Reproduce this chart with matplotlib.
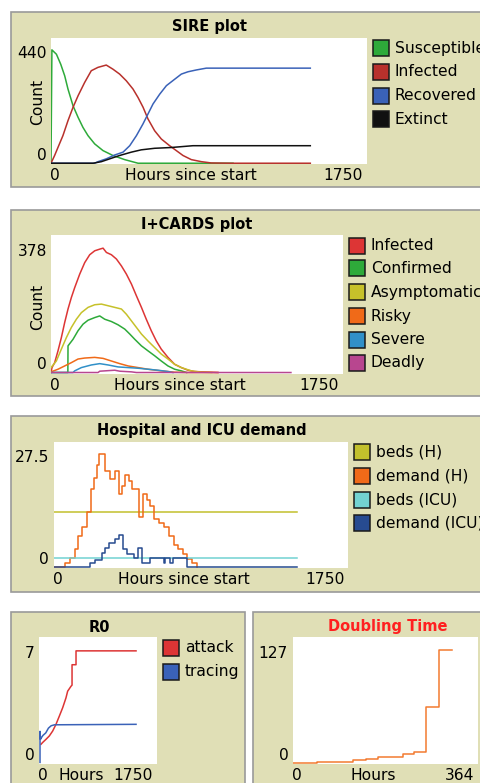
import matplotlib
matplotlib.use('Agg')
import matplotlib.pyplot as plt
from matplotlib.patches import Rectangle

# ---------------- data ----------------
# SIRE plot
sire_s_hours = [0, 5, 30, 54, 76, 94, 122, 150, 177, 205, 242, 288, 343, 408, 482, 1008]
sire_s = [0, 440, 423, 384, 339, 288, 223, 178, 139, 107, 75, 49, 30, 14, 0, 0]
sire_i_hours = [0, 20, 39, 66, 94, 122, 150, 186, 223, 260, 306, 343, 380, 417, 454, 482, 510,
                537, 574, 611, 657, 694, 731, 777, 833, 888, 999, 1436]
sire_i = [0, 30, 62, 107, 165, 217, 262, 313, 359, 372, 381, 365, 346, 320, 288, 255, 217,
          172, 126, 94, 68, 49, 30, 14, 6, 1, 0, 0]
sire_r_hours = [0, 242, 260, 306, 353, 399, 436, 473, 509, 537, 565, 602, 639, 685, 722, 759,
                805, 860, 1436]
sire_r = [0, 0, 6, 17, 32, 43, 68, 107, 152, 191, 230, 268, 301, 326, 346, 355, 362, 369, 369]
sire_e_hours = [0, 233, 279, 325, 380, 445, 500, 574, 666, 786, 1436]
sire_e = [0, 0, 6, 17, 30, 43, 52, 58, 61, 68, 68]

# I+CARDS plot
ic_inf_hours = [0, 6, 22, 42, 62, 82, 102, 122, 142, 172, 202, 232, 262, 292, 312, 332, 362, 392,
                422, 452, 482, 512, 542, 571, 601, 631, 661, 701, 741, 781, 821, 861, 1001]
ic_inf = [0, 15, 30, 66, 106, 152, 193, 228, 258, 299, 334, 358, 370, 375, 378, 365, 358, 345,
          324, 299, 269, 233, 198, 162, 127, 96, 71, 46, 25, 15, 7, 3, 0]
ic_conf_hours = [0, 101, 102, 132, 162, 192, 222, 262, 292, 322, 362, 402, 442, 472, 502, 542,
                 581, 621, 661, 701, 741, 781, 813]
ic_conf = [0, 0, 81, 101, 127, 147, 159, 167, 172, 162, 155, 145, 132, 117, 101, 81,
           66, 51, 35, 20, 10, 5, 0]
ic_asym_hours = [0, 32, 62, 92, 122, 152, 182, 222, 262, 302, 342, 382, 422, 452, 482, 512, 542,
                 581, 621, 661, 701, 741, 781, 841, 901, 963]
ic_asym = [15, 35, 71, 106, 137, 162, 182, 198, 206, 208, 203, 198, 193, 177, 157, 137, 117,
           96, 76, 56, 41, 25, 15, 5, 1, 0]
ic_risky_hours = [0, 42, 82, 122, 162, 202, 262, 312, 362, 412, 462, 522, 581, 661, 741, 821, 1000]
ic_risky = [2, 10, 20, 30, 41, 44, 46, 43, 35, 27, 20, 15, 10, 5, 1, 0, 0]
ic_severe_hours = [0, 132, 142, 182, 242, 292, 342, 402, 462, 522, 581, 641, 701, 731]
ic_severe = [0, 0, 5, 15, 23, 27, 23, 17, 15, 13, 10, 7, 3, 0]
ic_deadly_hours = [0, 282, 292, 382, 412, 482, 512, 1438]
ic_deadly = [0, 0, 4, 7, 4, 2, 0, 0]

# Hospital and ICU demand
hosp_end = 1445
beds_h = 13.3
beds_icu = 2.1
dem_h_hours = [0, 67, 97, 127, 143, 167, 196, 222, 236, 256, 266, 306, 335, 361, 385, 405, 425,
               448, 464, 508, 528, 554, 573, 593, 623, 653, 683, 712, 738, 766, 792, 821, 852]
dem_h = [0, 1.0, 2.2, 4.2, 7.4, 9.7, 13.3, 18.8, 21.6, 24.6, 27.5, 23.2, 21.2, 23.2, 17.6, 19.6,
         22.4, 20.8, 18.8, 12.1, 17.6, 16.3, 14.7, 11.7, 10.7, 9.7, 7.4, 5.4, 4.2, 3.0, 1.8, 0.8, 0]
dem_icu_hours = [0, 216, 246, 286, 306, 329, 361, 385, 409, 435, 474, 500, 524, 573, 653, 663,
                 692, 706, 792, 1445]
dem_icu = [0, 0.8, 1.6, 3.4, 4.6, 5.8, 6.8, 7.8, 4.2, 3.0, 2.2, 4.6, 1.0, 2.2, 1.0, 2.2,
           1.0, 2.2, 0, 0]

# R0
r0_attack_hours = [30, 54, 104, 153, 203, 252, 302, 351, 400, 425, 475, 490, 490, 549, 549, 1439]
r0_attack = [1.14, 1.25, 1.45, 1.66, 1.97, 2.39, 2.91, 3.43, 4.05, 4.47, 4.78, 4.85, 6.13, 6.13,
             7.0, 7.0]
r0_tracing_hours = [15, 15, 22, 35, 60, 100, 140, 180, 230, 1439]
r0_tracing = [0, 1.95, 1.45, 1.55, 1.7, 1.85, 2.15, 2.3, 2.36, 2.39]

# Doubling time
dbl_hours = [0, 47, 119, 144, 168, 216, 239, 262, 288, 312]
dbl = [0.5, 1.9, 3.4, 4.9, 6.7, 10.5, 13.1, 62.7, 127, 127]

# ---------------- layout ----------------
W, H = 481, 783
TAN = '#E0DFB6'
FS = 11.2
FS_T = 10.5
LW = 1.1

fig = plt.figure(figsize=(W / 100, H / 100), dpi=100)
fig.patch.set_facecolor('white')


def rect(x0, y0, x1, y1, z=-10, **kw):
    r = Rectangle((x0 / W, 1 - y1 / H), (x1 - x0) / W, (y1 - y0) / H,
                  transform=fig.transFigure, figure=fig, zorder=z, **kw)
    fig.patches.append(r)


def txt(x, y, s, ha='center', **kw):
    kw.setdefault('fontsize', FS)
    fig.text(x / W, 1 - y / H, s, ha=ha, va='center', **kw)


def plot_area(x0, y0, x1, y1, xlim, ylim):
    ax = fig.add_axes([x0 / W, 1 - y1 / H, (x1 - x0) / W, (y1 - y0) / H])
    ax.set_zorder(5)
    ax.set_facecolor('white')
    for s in ax.spines.values():
        s.set_visible(False)
    ax.set_xticks([])
    ax.set_yticks([])
    ax.set_xlim(*xlim)
    ax.set_ylim(*ylim)
    return ax


def legend(xb, ycs, labels, colors):
    for yc, lab, c in zip(ycs, labels, colors):
        rect(xb, yc - 8, xb + 16, yc + 8, z=3, facecolor=c, edgecolor='#1a1a1a', lw=1.1)
        txt(xb + 22, yc, lab, ha='left')


def title(x, y, s, **kw):
    txt(x, y, s, fontweight='bold', fontsize=FS_T, **kw)


# panels
for (x0, y0, x1, y1) in [(11, 12, 500, 187), (11, 210, 500, 396), (11, 416, 500, 592),
                         (11, 612, 245, 800), (253, 612, 500, 800)]:
    rect(x0, y0, x1, y1, facecolor=TAN, edgecolor='#9a9a9a', lw=1.2)

# ---- SIRE plot ----
ax1 = plot_area(51, 38, 367, 164, (0, 1750), (-3, 486))
c_s, c_i, c_r, c_e = '#2EAA3A', '#B8312C', '#3A62B8', '#111111'
ax1.plot(sire_s_hours, sire_s, color=c_s, lw=LW)
ax1.plot(sire_i_hours, sire_i, color=c_i, lw=LW)
ax1.plot(sire_r_hours, sire_r, color=c_r, lw=LW)
ax1.plot(sire_e_hours, sire_e, color=c_e, lw=LW)
title(209.5, 26, 'SIRE plot')
txt(47, 53, '440', ha='right')
txt(47, 155, '0', ha='right')
txt(38, 102, 'Count', rotation=90)
txt(55, 175, '0')
txt(191, 175, 'Hours since start')
txt(343.5, 175, '1750')
legend(373, [48, 72, 96, 119], ['Susceptible', 'Infected', 'Recovered', 'Extinct'],
       [c_s, c_i, c_r, c_e])

# ---- I+CARDS plot ----
ax2 = plot_area(51, 235, 343, 374, (0, 1750), (-4.5, 418))
c_inf, c_conf, c_asym, c_risky, c_sev, c_dead = ('#DD3535', '#2EAA3A', '#C6C12A', '#F06A18',
                                                 '#3190C8', '#B8468F')
ax2.plot(ic_inf_hours, ic_inf, color=c_inf, lw=LW)
ax2.plot(ic_conf_hours, ic_conf, color=c_conf, lw=LW)
ax2.plot(ic_asym_hours, ic_asym, color=c_asym, lw=LW)
ax2.plot(ic_risky_hours, ic_risky, color=c_risky, lw=LW)
ax2.plot(ic_severe_hours, ic_severe, color=c_sev, lw=LW)
ax2.plot(ic_deadly_hours, ic_deadly, color=c_dead, lw=LW)
title(197, 224, 'I+CARDS plot')
txt(47, 251, '378', ha='right')
txt(47, 364, '0', ha='right')
txt(38, 307, 'Count', rotation=90)
txt(55, 385, '0')
txt(179.5, 385, 'Hours since start')
txt(319, 385, '1750')
legend(349, [246, 268.5, 292, 316, 339.5, 363],
       ['Infected', 'Confirmed', 'Asymptomatic', 'Risky', 'Severe', 'Deadly'],
       [c_inf, c_conf, c_asym, c_risky, c_sev, c_dead])

# ---- Hospital and ICU demand ----
ax3 = plot_area(54, 442, 348, 568, (0, 1750), (-0.3, 30.3))
c_bh, c_dh, c_bi, c_di = '#C2C02C', '#F06A18', '#72D2D2', '#274B90'
ax3.plot([0, hosp_end], [beds_h, beds_h], color=c_bh, lw=LW)
ax3.plot(dem_h_hours, dem_h, color=c_dh, lw=LW, drawstyle='steps-post')
ax3.plot([0, hosp_end], [beds_icu, beds_icu], color=c_bi, lw=LW)
ax3.plot(dem_icu_hours, dem_icu, color=c_di, lw=LW, drawstyle='steps-post')
title(202, 431, 'Hospital and ICU demand')
txt(49, 457, '27.5', ha='right')
txt(49, 559, '0', ha='right')
txt(57.5, 580, '0')
txt(183.7, 580, 'Hours since start')
txt(325.5, 580, '1750')
legend(354, [452, 476, 499.5, 523], ['beds (H)', 'demand (H)', 'beds (ICU)', 'demand (ICU)'],
       [c_bh, c_dh, c_bi, c_di])

# ---- R0 ----
ax4 = plot_area(39, 637, 157, 764, (0, 1750), (-0.1, 7.87))
c_att, c_tr = '#DD3535', '#3A62B8'
ax4.plot(r0_attack_hours, r0_attack, color=c_att, lw=LW)
ax4.plot(r0_tracing_hours, r0_tracing, color=c_tr, lw=LW)
title(99.7, 627, 'R0')
txt(35, 653, '7', ha='right')
txt(35, 755, '0', ha='right')
txt(42.5, 775, '0')
txt(80.8, 775, 'Hours')
txt(133.3, 775, '1750')
legend(163, [648, 671.5], ['attack', 'tracing'], [c_att, c_tr])

# ---- Doubling time ----
ax5 = plot_area(293, 637, 478, 764, (0, 364), (-0.8, 141.6))
ax5.plot(dbl_hours, dbl, color='#F27A30', lw=LW, drawstyle='steps-post')
title(387.5, 627, 'Doubling Time', color='#FF2020')
txt(288, 653, '127', ha='right')
txt(289, 755, '0', ha='right')
txt(296.7, 775, '0')
txt(373.3, 775, 'Hours')
txt(460, 775, '364')

fig.savefig('out.png', dpi=100, facecolor='white')
